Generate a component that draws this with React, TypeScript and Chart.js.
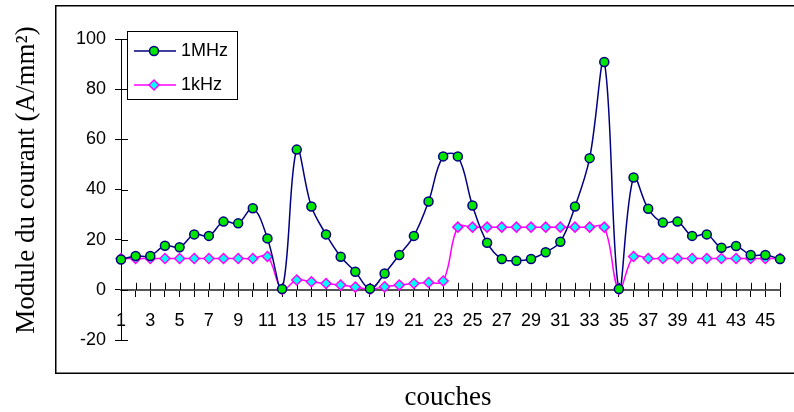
import React, { useEffect, useRef } from 'react';
import { Chart, registerables } from 'chart.js';

Chart.register(...registerables);

const categories: string[] = Array.from({ length: 46 }, (_, i) => String(i + 1));

const series1MHz: number[] = [
  12.1, 13.5, 13.5, 17.6, 17.0, 22.1, 21.5, 27.2, 26.5, 32.5,
  20.5, 0.3, 55.9, 33.2, 22.1, 13.2, 7.2, 0.4, 6.5, 13.9,
  21.5, 35.2, 53.2, 53.2, 33.6, 18.8, 12.3, 11.6, 12.3, 15.0,
  19.2, 33.2, 52.5, 90.8, 0.3, 44.8, 32.3, 26.8, 27.2, 21.5,
  22.1, 16.8, 17.5, 13.9, 13.9, 12.3,
];

const series1kHz: number[] = [
  12.5, 12.5, 12.5, 12.5, 12.5, 12.5, 12.5, 12.5, 12.5, 12.5,
  13.3, 0.2, 3.9, 3.2, 2.5, 1.9, 1.1, 0.3, 1.2, 1.9,
  2.5, 2.9, 3.5, 25, 25, 25, 25, 25, 25, 25,
  25, 25, 25, 25, 0.2, 13.3, 12.5, 12.5, 12.5, 12.5,
  12.5, 12.5, 12.5, 12.5, 12.5, 12.5,
];

const seriesNames: string[] = ['1MHz', '1kHz'];
const yTitle = 'Module du courant (A/mm\u00B2)';
const xTitle = 'couches';

const tickFont = "18px 'Liberation Sans', Arial, sans-serif";
const titleFont = "27px 'Liberation Serif', 'Times New Roman', serif";

const decorPlugin = {
  id: 'decor',
  beforeDraw(chart: any) {
    const ctx = chart.ctx;
    ctx.save();
    ctx.fillStyle = '#ffffff';
    ctx.fillRect(0, 0, chart.width, chart.height);
    ctx.strokeStyle = '#000000';
    ctx.lineWidth = 1.5;
    ctx.strokeRect(55.75, 5.75, 800, 367.5);
    ctx.restore();
  },
  beforeDatasetsDraw(chart: any) {
    const ctx = chart.ctx;
    const xs = chart.scales.x;
    const ys = chart.scales.y;
    const y0 = ys.getPixelForValue(0);
    const left = chart.chartArea.left;
    ctx.save();
    ctx.strokeStyle = '#000000';
    ctx.lineWidth = 1;
    ctx.beginPath();
    xs.ticks.forEach((_t: any, i: number) => {
      const px = Math.round(xs.getPixelForTick(i)) + 0.5;
      ctx.moveTo(px, y0 - 7);
      ctx.lineTo(px, y0);
    });
    ys.ticks.forEach((t: any) => {
      const py = Math.round(ys.getPixelForValue(t.value)) + 0.5;
      ctx.moveTo(left, py);
      ctx.lineTo(left + 7, py);
    });
    ctx.stroke();
    ctx.restore();
  },
  afterDraw(chart: any) {
    const ctx = chart.ctx;
    ctx.save();
    ctx.fillStyle = '#000000';
    ctx.font = titleFont;
    ctx.textAlign = 'center';
    ctx.textBaseline = 'alphabetic';
    ctx.fillText(xTitle, 448, 405);
    ctx.save();
    ctx.translate(34, 180);
    ctx.rotate(-Math.PI / 2);
    ctx.fillText(yTitle, 0, 0);
    ctx.restore();

    const bx = 127.5, by = 31.5, bw = 110, bh = 68;
    ctx.fillStyle = '#ffffff';
    ctx.fillRect(bx, by, bw, bh);
    ctx.strokeStyle = '#000000';
    ctx.lineWidth = 1;
    ctx.strokeRect(bx, by, bw, bh);
    const rows = [51, 85];
    chart.data.datasets.forEach((ds: any, i: number) => {
      const ly = rows[i];
      ctx.strokeStyle = ds.borderColor;
      ctx.lineWidth = ds.borderWidth;
      ctx.beginPath();
      ctx.moveTo(134, ly);
      ctx.lineTo(176, ly);
      ctx.stroke();
      ctx.fillStyle = ds.pointBackgroundColor;
      ctx.strokeStyle = ds.pointBorderColor;
      ctx.lineWidth = ds.pointBorderWidth;
      ctx.beginPath();
      const r = ds.pointRadius;
      const cx = 154;
      if (ds.pointStyle === 'rectRot') {
        ctx.moveTo(cx, ly - r);
        ctx.lineTo(cx + r, ly);
        ctx.lineTo(cx, ly + r);
        ctx.lineTo(cx - r, ly);
        ctx.closePath();
      } else {
        ctx.arc(cx, ly, r, 0, Math.PI * 2);
      }
      ctx.fill();
      ctx.stroke();
      ctx.fillStyle = '#000000';
      ctx.font = tickFont;
      ctx.textAlign = 'left';
      ctx.textBaseline = 'middle';
      ctx.fillText(ds.label, 181, ly);
    });
    ctx.restore();
  },
};

export default function App() {
  const canvasRef = useRef<HTMLCanvasElement | null>(null);

  useEffect(() => {
    const canvas = canvasRef.current;
    if (!canvas) return;
    const chart = new Chart(canvas, {
      type: 'line',
      data: {
        labels: categories,
        datasets: [
          {
            label: seriesNames[0],
            data: series1MHz,
            borderColor: '#000080',
            borderWidth: 1.5,
            tension: 0.38,
            pointStyle: 'circle',
            pointRadius: 4.5,
            pointBackgroundColor: '#00e600',
            pointBorderColor: '#000080',
            pointBorderWidth: 1.5,
            fill: false,
          },
          {
            label: seriesNames[1],
            data: series1kHz,
            borderColor: '#ff00ff',
            borderWidth: 1.5,
            tension: 0.38,
            pointStyle: 'rectRot',
            pointRadius: 5,
            pointBackgroundColor: '#00ffff',
            pointBorderColor: '#ff00ff',
            pointBorderWidth: 1.5,
            fill: false,
          },
        ],
      },
      options: {
        responsive: false,
        animation: false,
        events: [],
        layout: { padding: { left: 0, right: 5, top: 39, bottom: 72 } },
        plugins: {
          legend: { display: false },
          tooltip: { enabled: false },
          title: { display: false },
        },
        scales: {
          x: {
            type: 'category',
            position: { y: 0 } as any,
            offset: false,
            afterFit: (s: any) => { s.height = 0; },
            grid: {
              display: true,
              drawOnChartArea: false,
              drawTicks: true,
              tickLength: 6,
              color: '#000000',
              lineWidth: 1,
            },
            border: { display: true, color: '#555555', width: 2 },
            ticks: {
              autoSkip: false,
              maxRotation: 0,
              minRotation: 0,
              padding: 14,
              color: '#000000',
              font: { family: "'Liberation Sans', Arial, sans-serif", size: 18 },
              callback: (_v: any, i: number) => (i % 2 === 0 ? categories[i] : ''),
            },
          },
          y: {
            type: 'linear',
            min: -20,
            max: 100,
            afterFit: (s: any) => { s.width = 121; },
            grid: {
              display: true,
              drawOnChartArea: false,
              drawTicks: true,
              tickLength: 6,
              color: '#000000',
              lineWidth: 1,
            },
            border: { display: true, color: '#000000', width: 1 },
            ticks: {
              stepSize: 20,
              padding: 9,
              color: '#000000',
              font: { family: "'Liberation Sans', Arial, sans-serif", size: 18 },
            },
          },
        },
      },
      plugins: [decorPlugin],
    });
    return () => chart.destroy();
  }, []);

  return (
    <div style={{ position: 'absolute', left: 0, top: 0, width: 794, height: 412, background: '#fff' }}>
      <canvas ref={canvasRef} width={794} height={412} style={{ display: 'block' }} />
    </div>
  );
}
